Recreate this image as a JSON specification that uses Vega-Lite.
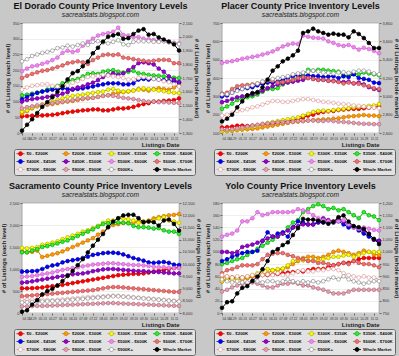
{
"$schema": "https://vega.github.io/schema/vega-lite/v6.json",
"background": "#c8c8c8",
"padding": {"left": 0, "top": 2, "right": 0, "bottom": 0},
"columns": 2,
"bounds": "flush",
"spacing": {"column": 43, "row": 70},
"resolve": {"scale": {"color": "independent", "stroke": "independent", "x": "independent"}, "legend": {"color": "independent", "stroke": "independent"}},
"datasets": {
"ed": [
{"d":"2007-04-15","a":53,"b":62,"c":68,"e":120,"f":108,"g":100,"h":197,"j":175,"k":138,"m":78,"n":228,"w":1317},
{"d":"2007-04-22","a":54,"b":70,"c":72,"e":122,"f":115,"g":105,"h":205,"j":182,"k":145,"m":82,"n":235,"w":1360},
{"d":"2007-04-29","a":55,"b":78,"c":80,"e":125,"f":122,"g":108,"h":212,"j":188,"k":150,"m":85,"n":245,"w":1400},
{"d":"2007-05-06","a":55,"b":85,"c":85,"e":128,"f":128,"g":110,"h":215,"j":193,"k":152,"m":88,"n":250,"w":1445},
{"d":"2007-05-13","a":56,"b":88,"c":90,"e":132,"f":132,"g":112,"h":220,"j":198,"k":155,"m":90,"n":255,"w":1490},
{"d":"2007-05-20","a":57,"b":90,"c":95,"e":138,"f":135,"g":115,"h":225,"j":200,"k":155,"m":92,"n":258,"w":1525},
{"d":"2007-05-27","a":58,"b":92,"c":100,"e":145,"f":138,"g":118,"h":232,"j":205,"k":150,"m":95,"n":262,"w":1560},
{"d":"2007-06-03","a":60,"b":95,"c":105,"e":150,"f":140,"g":120,"h":240,"j":210,"k":148,"m":98,"n":270,"w":1600},
{"d":"2007-06-10","a":63,"b":98,"c":110,"e":158,"f":142,"g":125,"h":255,"j":215,"k":150,"m":100,"n":272,"w":1640},
{"d":"2007-06-17","a":66,"b":100,"c":115,"e":165,"f":140,"g":130,"h":262,"j":222,"k":152,"m":102,"n":278,"w":1690},
{"d":"2007-06-24","a":68,"b":102,"c":118,"e":168,"f":138,"g":140,"h":258,"j":225,"k":160,"m":105,"n":275,"w":1735},
{"d":"2007-07-01","a":70,"b":105,"c":120,"e":172,"f":140,"g":145,"h":262,"j":228,"k":165,"m":108,"n":280,"w":1750},
{"d":"2007-07-08","a":72,"b":108,"c":122,"e":180,"f":142,"g":148,"h":278,"j":225,"k":172,"m":110,"n":285,"w":1785},
{"d":"2007-07-15","a":73,"b":110,"c":125,"e":188,"f":145,"g":155,"h":290,"j":220,"k":178,"m":112,"n":280,"w":1820},
{"d":"2007-07-22","a":75,"b":112,"c":128,"e":190,"f":148,"g":160,"h":300,"j":232,"k":180,"m":112,"n":290,"w":1880},
{"d":"2007-07-29","a":75,"b":115,"c":130,"e":188,"f":152,"g":168,"h":310,"j":240,"k":182,"m":115,"n":292,"w":1920},
{"d":"2007-08-05","a":72,"b":118,"c":132,"e":195,"f":155,"g":178,"h":315,"j":248,"k":185,"m":118,"n":288,"w":1965},
{"d":"2007-08-12","a":72,"b":120,"c":138,"e":198,"f":158,"g":185,"h":318,"j":250,"k":183,"m":120,"n":285,"w":2000},
{"d":"2007-08-19","a":75,"b":125,"c":140,"e":200,"f":158,"g":190,"h":322,"j":248,"k":180,"m":118,"n":290,"w":2010},
{"d":"2007-08-26","a":78,"b":128,"c":135,"e":195,"f":158,"g":185,"h":335,"j":250,"k":178,"m":115,"n":295,"w":2020},
{"d":"2007-09-02","a":78,"b":130,"c":132,"e":192,"f":155,"g":190,"h":312,"j":240,"k":175,"m":112,"n":282,"w":1985},
{"d":"2007-09-09","a":80,"b":132,"c":133,"e":195,"f":155,"g":200,"h":310,"j":238,"k":170,"m":110,"n":280,"w":1990},
{"d":"2007-09-16","a":83,"b":135,"c":135,"e":198,"f":158,"g":210,"h":305,"j":235,"k":172,"m":108,"n":290,"w":2020},
{"d":"2007-09-23","a":88,"b":140,"c":138,"e":190,"f":170,"g":222,"h":305,"j":232,"k":175,"m":105,"n":292,"w":2045},
{"d":"2007-09-30","a":92,"b":138,"c":142,"e":188,"f":172,"g":225,"h":300,"j":230,"k":178,"m":102,"n":292,"w":2055},
{"d":"2007-10-07","a":95,"b":135,"c":140,"e":185,"f":170,"g":222,"h":298,"j":228,"k":175,"m":100,"n":292,"w":2015},
{"d":"2007-10-14","a":100,"b":140,"c":138,"e":183,"f":172,"g":218,"h":296,"j":230,"k":172,"m":100,"n":290,"w":2020},
{"d":"2007-10-21","a":100,"b":142,"c":135,"e":182,"f":170,"g":205,"h":293,"j":232,"k":170,"m":98,"n":290,"w":1995},
{"d":"2007-10-28","a":102,"b":140,"c":133,"e":180,"f":168,"g":195,"h":292,"j":233,"k":165,"m":98,"n":292,"w":1980},
{"d":"2007-11-04","a":103,"b":138,"c":130,"e":178,"f":165,"g":180,"h":290,"j":232,"k":162,"m":97,"n":288,"w":1965},
{"d":"2007-11-11","a":105,"b":145,"c":128,"e":176,"f":165,"g":170,"h":287,"j":222,"k":155,"m":96,"n":285,"w":1945},
{"d":"2007-11-18","a":110,"b":150,"c":127,"e":175,"f":160,"g":162,"h":285,"j":222,"k":148,"m":95,"n":283,"w":1900}
],
"pl": [
{"d":"2007-04-15","a":130,"b":110,"c":110,"e":232,"f":300,"g":268,"h":482,"j":315,"k":195,"m":120,"n":310,"w":2727},
{"d":"2007-04-22","a":132,"b":110,"c":112,"e":245,"f":305,"g":275,"h":488,"j":320,"k":200,"m":118,"n":312,"w":2756},
{"d":"2007-04-29","a":135,"b":112,"c":115,"e":260,"f":320,"g":285,"h":492,"j":340,"k":210,"m":120,"n":320,"w":2800},
{"d":"2007-05-06","a":140,"b":115,"c":120,"e":280,"f":335,"g":295,"h":498,"j":355,"k":220,"m":125,"n":330,"w":2880},
{"d":"2007-05-13","a":140,"b":118,"c":125,"e":290,"f":340,"g":300,"h":505,"j":360,"k":225,"m":130,"n":340,"w":2945},
{"d":"2007-05-20","a":138,"b":120,"c":130,"e":295,"f":345,"g":305,"h":510,"j":362,"k":230,"m":135,"n":350,"w":3011},
{"d":"2007-05-27","a":140,"b":122,"c":135,"e":300,"f":350,"g":310,"h":515,"j":365,"k":240,"m":140,"n":360,"w":3036},
{"d":"2007-06-03","a":142,"b":125,"c":140,"e":310,"f":360,"g":320,"h":520,"j":370,"k":245,"m":145,"n":370,"w":3047},
{"d":"2007-06-10","a":145,"b":130,"c":148,"e":325,"f":370,"g":330,"h":528,"j":380,"k":255,"m":150,"n":380,"w":3098},
{"d":"2007-06-17","a":148,"b":135,"c":155,"e":340,"f":375,"g":345,"h":535,"j":385,"k":265,"m":152,"n":390,"w":3182},
{"d":"2007-06-24","a":150,"b":140,"c":160,"e":340,"f":375,"g":355,"h":545,"j":385,"k":275,"m":155,"n":395,"w":3280},
{"d":"2007-07-01","a":155,"b":145,"c":165,"e":345,"f":380,"g":365,"h":558,"j":375,"k":275,"m":158,"n":400,"w":3327},
{"d":"2007-07-08","a":160,"b":150,"c":170,"e":365,"f":390,"g":370,"h":572,"j":378,"k":270,"m":160,"n":405,"w":3382},
{"d":"2007-07-15","a":165,"b":155,"c":175,"e":380,"f":400,"g":375,"h":582,"j":385,"k":270,"m":160,"n":410,"w":3411},
{"d":"2007-07-22","a":170,"b":160,"c":180,"e":390,"f":410,"g":380,"h":588,"j":390,"k":275,"m":162,"n":420,"w":3447},
{"d":"2007-07-29","a":175,"b":162,"c":185,"e":400,"f":415,"g":385,"h":585,"j":400,"k":280,"m":165,"n":425,"w":3498},
{"d":"2007-08-05","a":185,"b":165,"c":195,"e":420,"f":410,"g":390,"h":632,"j":405,"k":285,"m":165,"n":430,"w":3691},
{"d":"2007-08-12","a":195,"b":168,"c":205,"e":445,"f":415,"g":400,"h":625,"j":400,"k":285,"m":168,"n":435,"w":3709},
{"d":"2007-08-19","a":200,"b":170,"c":215,"e":440,"f":410,"g":395,"h":620,"j":395,"k":280,"m":168,"n":440,"w":3738},
{"d":"2007-08-26","a":210,"b":172,"c":220,"e":445,"f":410,"g":390,"h":618,"j":390,"k":275,"m":165,"n":435,"w":3709},
{"d":"2007-09-02","a":215,"b":175,"c":222,"e":445,"f":405,"g":390,"h":615,"j":390,"k":270,"m":165,"n":430,"w":3691},
{"d":"2007-09-09","a":218,"b":175,"c":220,"e":440,"f":408,"g":385,"h":600,"j":385,"k":268,"m":168,"n":428,"w":3673},
{"d":"2007-09-16","a":220,"b":178,"c":225,"e":438,"f":410,"g":385,"h":592,"j":382,"k":265,"m":165,"n":425,"w":3684},
{"d":"2007-09-23","a":225,"b":180,"c":228,"e":435,"f":400,"g":380,"h":580,"j":378,"k":260,"m":162,"n":430,"w":3673},
{"d":"2007-09-30","a":228,"b":185,"c":232,"e":410,"f":410,"g":378,"h":575,"j":370,"k":258,"m":160,"n":432,"w":3673},
{"d":"2007-10-07","a":230,"b":190,"c":235,"e":415,"f":405,"g":380,"h":580,"j":375,"k":255,"m":158,"n":428,"w":3644},
{"d":"2007-10-14","a":232,"b":192,"c":240,"e":425,"f":420,"g":370,"h":568,"j":372,"k":250,"m":155,"n":435,"w":3709},
{"d":"2007-10-21","a":232,"b":195,"c":242,"e":420,"f":400,"g":375,"h":555,"j":368,"k":248,"m":152,"n":440,"w":3680},
{"d":"2007-10-28","a":235,"b":198,"c":245,"e":430,"f":395,"g":365,"h":565,"j":360,"k":245,"m":150,"n":440,"w":3636},
{"d":"2007-11-04","a":238,"b":195,"c":248,"e":425,"f":390,"g":350,"h":558,"j":355,"k":240,"m":150,"n":435,"w":3582},
{"d":"2007-11-11","a":240,"b":195,"c":250,"e":420,"f":375,"g":340,"h":548,"j":345,"k":238,"m":148,"n":425,"w":3527},
{"d":"2007-11-18","a":245,"b":192,"c":258,"e":415,"f":372,"g":335,"h":535,"j":340,"k":235,"m":148,"n":420,"w":3527}
],
"sa": [
{"d":"2007-04-15","a":560,"b":1400,"c":1480,"e":1380,"f":940,"g":690,"h":820,"j":380,"k":300,"m":150,"n":240,"w":8055},
{"d":"2007-04-22","a":560,"b":1380,"c":1470,"e":1380,"f":945,"g":700,"h":830,"j":390,"k":300,"m":150,"n":245,"w":8110},
{"d":"2007-04-29","a":565,"b":1390,"c":1480,"e":1420,"f":950,"g":720,"h":840,"j":400,"k":305,"m":155,"n":250,"w":8344},
{"d":"2007-05-06","a":570,"b":1420,"c":1500,"e":1450,"f":960,"g":740,"h":860,"j":410,"k":310,"m":160,"n":255,"w":8523},
{"d":"2007-05-13","a":580,"b":1270,"c":1550,"e":1500,"f":1000,"g":760,"h":880,"j":420,"k":300,"m":160,"n":260,"w":8757},
{"d":"2007-05-20","a":600,"b":1300,"c":1570,"e":1520,"f":1050,"g":780,"h":900,"j":430,"k":295,"m":165,"n":265,"w":8894},
{"d":"2007-05-27","a":610,"b":1330,"c":1600,"e":1550,"f":1080,"g":800,"h":920,"j":440,"k":290,"m":170,"n":270,"w":8991},
{"d":"2007-06-03","a":620,"b":1360,"c":1630,"e":1580,"f":1100,"g":820,"h":950,"j":450,"k":300,"m":175,"n":275,"w":9128},
{"d":"2007-06-10","a":640,"b":1400,"c":1680,"e":1620,"f":1150,"g":840,"h":980,"j":460,"k":310,"m":180,"n":280,"w":9307},
{"d":"2007-06-17","a":660,"b":1450,"c":1720,"e":1650,"f":1180,"g":860,"h":1000,"j":470,"k":320,"m":185,"n":290,"w":9514},
{"d":"2007-06-24","a":680,"b":1500,"c":1760,"e":1700,"f":1200,"g":880,"h":1020,"j":480,"k":330,"m":190,"n":300,"w":9720},
{"d":"2007-07-01","a":700,"b":1550,"c":1800,"e":1750,"f":1220,"g":890,"h":1040,"j":490,"k":340,"m":195,"n":310,"w":9954},
{"d":"2007-07-08","a":720,"b":1600,"c":1850,"e":1800,"f":1250,"g":900,"h":1060,"j":500,"k":350,"m":200,"n":320,"w":10202},
{"d":"2007-07-15","a":740,"b":1650,"c":1880,"e":1850,"f":1280,"g":920,"h":1080,"j":510,"k":360,"m":205,"n":330,"w":10477},
{"d":"2007-07-22","a":760,"b":1700,"c":1930,"e":1900,"f":1320,"g":950,"h":1100,"j":520,"k":365,"m":210,"n":340,"w":10752},
{"d":"2007-07-29","a":780,"b":1780,"c":1980,"e":1960,"f":1340,"g":970,"h":1110,"j":540,"k":370,"m":215,"n":350,"w":11000},
{"d":"2007-08-05","a":800,"b":1850,"c":2050,"e":2020,"f":1360,"g":990,"h":1120,"j":560,"k":380,"m":220,"n":360,"w":11234},
{"d":"2007-08-12","a":820,"b":1950,"c":2100,"e":2040,"f":1370,"g":1000,"h":1130,"j":580,"k":390,"m":225,"n":370,"w":11509},
{"d":"2007-08-19","a":840,"b":2000,"c":2100,"e":2050,"f":1370,"g":1000,"h":1130,"j":590,"k":395,"m":225,"n":380,"w":11743},
{"d":"2007-08-26","a":860,"b":2020,"c":2150,"e":2060,"f":1360,"g":990,"h":1120,"j":590,"k":390,"m":220,"n":380,"w":11880},
{"d":"2007-09-02","a":870,"b":2050,"c":2150,"e":2050,"f":1330,"g":980,"h":1110,"j":580,"k":380,"m":215,"n":370,"w":11990},
{"d":"2007-09-09","a":880,"b":2050,"c":2130,"e":2040,"f":1290,"g":970,"h":1100,"j":570,"k":370,"m":210,"n":360,"w":12018},
{"d":"2007-09-16","a":890,"b":2050,"c":2100,"e":1980,"f":1250,"g":960,"h":1090,"j":560,"k":360,"m":205,"n":350,"w":12018},
{"d":"2007-09-23","a":890,"b":2080,"c":2050,"e":1950,"f":1220,"g":950,"h":1090,"j":550,"k":350,"m":200,"n":340,"w":11880},
{"d":"2007-09-30","a":900,"b":2080,"c":2050,"e":1950,"f":1190,"g":950,"h":1080,"j":540,"k":340,"m":195,"n":330,"w":11715},
{"d":"2007-10-07","a":920,"b":2100,"c":2080,"e":1940,"f":1150,"g":940,"h":1070,"j":530,"k":330,"m":190,"n":320,"w":11743},
{"d":"2007-10-14","a":940,"b":2150,"c":2100,"e":1920,"f":1140,"g":935,"h":1050,"j":520,"k":320,"m":185,"n":310,"w":11715},
{"d":"2007-10-21","a":960,"b":2180,"c":2150,"e":1930,"f":1150,"g":930,"h":1040,"j":510,"k":310,"m":180,"n":300,"w":11578},
{"d":"2007-10-28","a":980,"b":2200,"c":2180,"e":1880,"f":1160,"g":920,"h":1040,"j":500,"k":300,"m":175,"n":290,"w":11784},
{"d":"2007-11-04","a":1000,"b":2220,"c":2100,"e":1850,"f":1140,"g":910,"h":1030,"j":490,"k":290,"m":170,"n":280,"w":11825},
{"d":"2007-11-11","a":1020,"b":2230,"c":2080,"e":1850,"f":1100,"g":900,"h":1020,"j":480,"k":280,"m":165,"n":270,"w":11646},
{"d":"2007-11-18","a":1040,"b":2250,"c":2050,"e":1800,"f":1090,"g":900,"h":1020,"j":480,"k":270,"m":160,"n":260,"w":11371}
],
"yo": [
{"d":"2007-04-15","a":52,"b":58,"c":52,"e":80,"f":85,"g":100,"h":125,"j":65,"k":62,"m":35,"n":55,"w":771},
{"d":"2007-04-22","a":55,"b":60,"c":55,"e":82,"f":88,"g":100,"h":128,"j":70,"k":60,"m":38,"n":52,"w":794},
{"d":"2007-04-29","a":58,"b":58,"c":55,"e":85,"f":92,"g":98,"h":130,"j":72,"k":58,"m":42,"n":50,"w":798},
{"d":"2007-05-06","a":58,"b":56,"c":56,"e":88,"f":95,"g":100,"h":135,"j":75,"k":60,"m":45,"n":52,"w":830},
{"d":"2007-05-13","a":58,"b":55,"c":58,"e":90,"f":98,"g":108,"h":150,"j":78,"k":58,"m":48,"n":50,"w":853},
{"d":"2007-05-20","a":58,"b":57,"c":60,"e":95,"f":100,"g":110,"h":150,"j":78,"k":60,"m":48,"n":50,"w":860},
{"d":"2007-05-27","a":60,"b":60,"c":62,"e":100,"f":100,"g":112,"h":155,"j":78,"k":62,"m":50,"n":52,"w":881},
{"d":"2007-06-03","a":60,"b":62,"c":65,"e":105,"f":102,"g":115,"h":165,"j":80,"k":63,"m":48,"n":52,"w":899},
{"d":"2007-06-10","a":62,"b":63,"c":70,"e":110,"f":118,"g":118,"h":160,"j":88,"k":62,"m":45,"n":50,"w":929},
{"d":"2007-06-17","a":62,"b":65,"c":72,"e":115,"f":132,"g":122,"h":162,"j":95,"k":63,"m":42,"n":52,"w":963},
{"d":"2007-06-24","a":63,"b":70,"c":70,"e":120,"f":125,"g":125,"h":165,"j":97,"k":62,"m":42,"n":52,"w":1000},
{"d":"2007-07-01","a":64,"b":70,"c":72,"e":125,"f":130,"g":125,"h":165,"j":98,"k":65,"m":45,"n":50,"w":1011},
{"d":"2007-07-08","a":65,"b":72,"c":73,"e":130,"f":132,"g":130,"h":165,"j":98,"k":62,"m":48,"n":52,"w":1028},
{"d":"2007-07-15","a":66,"b":75,"c":78,"e":140,"f":125,"g":135,"h":165,"j":95,"k":63,"m":48,"n":55,"w":1039},
{"d":"2007-07-22","a":67,"b":80,"c":85,"e":148,"f":140,"g":140,"h":166,"j":93,"k":65,"m":50,"n":52,"w":1069},
{"d":"2007-07-29","a":68,"b":85,"c":88,"e":152,"f":150,"g":142,"h":170,"j":90,"k":68,"m":48,"n":50,"w":1097},
{"d":"2007-08-05","a":68,"b":90,"c":86,"e":165,"f":148,"g":145,"h":168,"j":88,"k":70,"m":45,"n":52,"w":1135},
{"d":"2007-08-12","a":70,"b":92,"c":86,"e":170,"f":145,"g":145,"h":165,"j":85,"k":68,"m":45,"n":50,"w":1132},
{"d":"2007-08-19","a":72,"b":92,"c":86,"e":175,"f":145,"g":145,"h":160,"j":85,"k":68,"m":42,"n":52,"w":1132},
{"d":"2007-08-26","a":72,"b":90,"c":85,"e":178,"f":148,"g":150,"h":155,"j":82,"k":70,"m":40,"n":50,"w":1128},
{"d":"2007-09-02","a":72,"b":92,"c":88,"e":175,"f":148,"g":155,"h":152,"j":82,"k":70,"m":38,"n":52,"w":1122},
{"d":"2007-09-09","a":75,"b":95,"c":90,"e":170,"f":150,"g":152,"h":150,"j":80,"k":72,"m":35,"n":55,"w":1115},
{"d":"2007-09-16","a":78,"b":100,"c":92,"e":172,"f":148,"g":150,"h":148,"j":78,"k":72,"m":32,"n":58,"w":1122},
{"d":"2007-09-23","a":80,"b":102,"c":92,"e":168,"f":150,"g":155,"h":150,"j":80,"k":70,"m":32,"n":55,"w":1142},
{"d":"2007-09-30","a":82,"b":100,"c":94,"e":170,"f":145,"g":150,"h":152,"j":82,"k":65,"m":32,"n":60,"w":1149},
{"d":"2007-10-07","a":82,"b":98,"c":95,"e":165,"f":140,"g":145,"h":145,"j":80,"k":62,"m":35,"n":55,"w":1124},
{"d":"2007-10-14","a":85,"b":95,"c":92,"e":160,"f":142,"g":140,"h":140,"j":85,"k":60,"m":38,"n":52,"w":1105},
{"d":"2007-10-21","a":88,"b":98,"c":95,"e":155,"f":135,"g":138,"h":138,"j":82,"k":58,"m":38,"n":50,"w":1101},
{"d":"2007-10-28","a":90,"b":102,"c":98,"e":165,"f":130,"g":135,"h":140,"j":80,"k":60,"m":38,"n":48,"w":1094},
{"d":"2007-11-04","a":90,"b":100,"c":100,"e":160,"f":125,"g":130,"h":138,"j":80,"k":58,"m":38,"n":50,"w":1073},
{"d":"2007-11-11","a":90,"b":96,"c":100,"e":158,"f":120,"g":120,"h":136,"j":78,"k":58,"m":38,"n":52,"w":1053},
{"d":"2007-11-18","a":90,"b":95,"c":100,"e":152,"f":118,"g":118,"h":135,"j":75,"k":55,"m":38,"n":52,"w":1032}
]
},
"concat": [
{
"title": {"text": "El Dorado County Price Inventory Levels", "subtitle": "sacrealstats.blogspot.com"},
"width": 157, "height": 110,
"data": {"name": "ed"},
"transform": [{"fold": ["a","b","c","e","f","g","h","j","k","m","n","w"], "as": ["key","v"]}],
"encoding": {
"x": {"field": "d", "type": "temporal", "title": "Listings Date"},
"color": {"field": "key", "type": "nominal", "scale": {"domain": ["a","b","c","e","f","g","h","j","k","m","n","w"], "range": ["#ff0000","#ff9900","#ffff00","#33ee33","#0000ff","#9900cc","#ee88ee","#f07070","#ffffff","#e8a0b0","#ffffff","#000000"]}, "legend": {"title": null, "labelExpr": "{'a':'$0 - $200K','b':'$200K - $300K','c':'$300K - $350K','e':'$350K - $400K','f':'$400K - $450K','g':'$450K - $500K','h':'$500K - $600K','j':'$600K - $700K','k':'$700K - $800K','m':'$800K - $900K','n':'$900K+','w':'Whole Market'}[datum.label]"}},
"stroke": {"field": "key", "type": "nominal", "scale": {"domain": ["a","b","c","e","f","g","h","j","k","m","n","w"], "range": ["#cc0000","#cc7700","#b0b000","#00aa00","#0000aa","#660099","#cc66cc","#c05050","#e0a0a0","#b07080","#909090","#000000"]}, "legend": {"title": null, "labelExpr": "{'a':'$0 - $200K','b':'$200K - $300K','c':'$300K - $350K','e':'$350K - $400K','f':'$400K - $450K','g':'$450K - $500K','h':'$500K - $600K','j':'$600K - $700K','k':'$700K - $800K','m':'$800K - $900K','n':'$900K+','w':'Whole Market'}[datum.label]"}}
},
"layer": [
{"transform": [{"filter": "datum.key != 'w'"}],
"encoding": {"y": {"field": "v", "type": "quantitative", "title": "# of Listings (each level)", "scale": {"domain": [0, 350], "nice": false, "zero": false}, "axis": {"values": [0,50,100,150,200,250,300,350], "grid": true}}},
"layer": [{"mark": {"type": "line", "strokeWidth": 1}}, {"mark": {"type": "circle", "size": 14, "opacity": 1, "strokeWidth": 0.7}}]},
{"transform": [{"filter": "datum.key == 'w'"}],
"encoding": {"y": {"field": "v", "type": "quantitative", "title": "# of Listings (whole market)", "scale": {"domain": [1300, 2100], "nice": false, "zero": false}, "axis": {"orient": "right", "titlePadding": 1, "values": [1300,1400,1500,1600,1700,1800,1900,2000,2100], "grid": false}}},
"layer": [{"mark": {"type": "line", "strokeWidth": 1}}, {"mark": {"type": "circle", "size": 14, "opacity": 1, "strokeWidth": 0.7}}]}
],
"resolve": {"scale": {"y": "independent"}}
},
{
"title": {"text": "Placer County Price Inventory Levels", "subtitle": "sacrealstats.blogspot.com"},
"width": 157, "height": 110,
"data": {"name": "pl"},
"transform": [{"fold": ["a","b","c","e","f","g","h","j","k","m","n","w"], "as": ["key","v"]}],
"encoding": {
"x": {"field": "d", "type": "temporal", "title": "Listings Date"},
"color": {"field": "key", "type": "nominal", "scale": {"domain": ["a","b","c","e","f","g","h","j","k","m","n","w"], "range": ["#ff0000","#ff9900","#ffff00","#33ee33","#0000ff","#9900cc","#ee88ee","#f07070","#ffffff","#e8a0b0","#ffffff","#000000"]}, "legend": {"title": null, "labelExpr": "{'a':'$0 - $200K','b':'$200K - $300K','c':'$300K - $350K','e':'$350K - $400K','f':'$400K - $450K','g':'$450K - $500K','h':'$500K - $600K','j':'$600K - $700K','k':'$700K - $800K','m':'$800K - $900K','n':'$900K+','w':'Whole Market'}[datum.label]"}},
"stroke": {"field": "key", "type": "nominal", "scale": {"domain": ["a","b","c","e","f","g","h","j","k","m","n","w"], "range": ["#cc0000","#cc7700","#b0b000","#00aa00","#0000aa","#660099","#cc66cc","#c05050","#e0a0a0","#b07080","#909090","#000000"]}, "legend": {"title": null, "labelExpr": "{'a':'$0 - $200K','b':'$200K - $300K','c':'$300K - $350K','e':'$350K - $400K','f':'$400K - $450K','g':'$450K - $500K','h':'$500K - $600K','j':'$600K - $700K','k':'$700K - $800K','m':'$800K - $900K','n':'$900K+','w':'Whole Market'}[datum.label]"}}
},
"layer": [
{"transform": [{"filter": "datum.key != 'w'"}],
"encoding": {"y": {"field": "v", "type": "quantitative", "title": "# of Listings (each level)", "scale": {"domain": [100, 700], "nice": false, "zero": false}, "axis": {"values": [100,200,300,400,500,600,700], "grid": true}}},
"layer": [{"mark": {"type": "line", "strokeWidth": 1}}, {"mark": {"type": "circle", "size": 14, "opacity": 1, "strokeWidth": 0.7}}]},
{"transform": [{"filter": "datum.key == 'w'"}],
"encoding": {"y": {"field": "v", "type": "quantitative", "title": "# of Listings (whole market)", "scale": {"domain": [2600, 3800], "nice": false, "zero": false}, "axis": {"orient": "right", "titlePadding": 1, "values": [2600,2800,3000,3200,3400,3600,3800], "grid": false}}},
"layer": [{"mark": {"type": "line", "strokeWidth": 1}}, {"mark": {"type": "circle", "size": 14, "opacity": 1, "strokeWidth": 0.7}}]}
],
"resolve": {"scale": {"y": "independent"}}
},
{
"title": {"text": "Sacramento County Price Inventory Levels", "subtitle": "sacrealstats.blogspot.com"},
"width": 157, "height": 110,
"data": {"name": "sa"},
"transform": [{"fold": ["a","b","c","e","f","g","h","j","k","m","n","w"], "as": ["key","v"]}],
"encoding": {
"x": {"field": "d", "type": "temporal", "title": "Listings Date"},
"color": {"field": "key", "type": "nominal", "scale": {"domain": ["a","b","c","e","f","g","h","j","k","m","n","w"], "range": ["#ff0000","#ff9900","#ffff00","#33ee33","#0000ff","#9900cc","#ee88ee","#f07070","#ffffff","#e8a0b0","#ffffff","#000000"]}, "legend": {"title": null, "labelExpr": "{'a':'$0 - $200K','b':'$200K - $300K','c':'$300K - $350K','e':'$350K - $400K','f':'$400K - $450K','g':'$450K - $500K','h':'$500K - $600K','j':'$600K - $700K','k':'$700K - $800K','m':'$800K - $900K','n':'$900K+','w':'Whole Market'}[datum.label]"}},
"stroke": {"field": "key", "type": "nominal", "scale": {"domain": ["a","b","c","e","f","g","h","j","k","m","n","w"], "range": ["#cc0000","#cc7700","#b0b000","#00aa00","#0000aa","#660099","#cc66cc","#c05050","#e0a0a0","#b07080","#909090","#000000"]}, "legend": {"title": null, "labelExpr": "{'a':'$0 - $200K','b':'$200K - $300K','c':'$300K - $350K','e':'$350K - $400K','f':'$400K - $450K','g':'$450K - $500K','h':'$500K - $600K','j':'$600K - $700K','k':'$700K - $800K','m':'$800K - $900K','n':'$900K+','w':'Whole Market'}[datum.label]"}}
},
"layer": [
{"transform": [{"filter": "datum.key != 'w'"}],
"encoding": {"y": {"field": "v", "type": "quantitative", "title": "# of Listings (each level)", "scale": {"domain": [0, 2500], "nice": false, "zero": false}, "axis": {"values": [0,500,1000,1500,2000,2500], "grid": true}}},
"layer": [{"mark": {"type": "line", "strokeWidth": 1}}, {"mark": {"type": "circle", "size": 14, "opacity": 1, "strokeWidth": 0.7}}]},
{"transform": [{"filter": "datum.key == 'w'"}],
"encoding": {"y": {"field": "v", "type": "quantitative", "title": "# of Listings (whole market)", "scale": {"domain": [8000, 12500], "nice": false, "zero": false}, "axis": {"orient": "right", "titlePadding": 1, "values": [8000,8500,9000,9500,10000,10500,11000,11500,12000,12500], "grid": false}}},
"layer": [{"mark": {"type": "line", "strokeWidth": 1}}, {"mark": {"type": "circle", "size": 14, "opacity": 1, "strokeWidth": 0.7}}]}
],
"resolve": {"scale": {"y": "independent"}}
},
{
"title": {"text": "Yolo County Price Inventory Levels", "subtitle": "sacrealstats.blogspot.com"},
"width": 157, "height": 110,
"data": {"name": "yo"},
"transform": [{"fold": ["a","b","c","e","f","g","h","j","k","m","n","w"], "as": ["key","v"]}],
"encoding": {
"x": {"field": "d", "type": "temporal", "title": "Listings Date"},
"color": {"field": "key", "type": "nominal", "scale": {"domain": ["a","b","c","e","f","g","h","j","k","m","n","w"], "range": ["#ff0000","#ff9900","#ffff00","#33ee33","#0000ff","#9900cc","#ee88ee","#f07070","#ffffff","#e8a0b0","#ffffff","#000000"]}, "legend": {"title": null, "labelExpr": "{'a':'$0 - $200K','b':'$200K - $300K','c':'$300K - $350K','e':'$350K - $400K','f':'$400K - $450K','g':'$450K - $500K','h':'$500K - $600K','j':'$600K - $700K','k':'$700K - $800K','m':'$800K - $900K','n':'$900K+','w':'Whole Market'}[datum.label]"}},
"stroke": {"field": "key", "type": "nominal", "scale": {"domain": ["a","b","c","e","f","g","h","j","k","m","n","w"], "range": ["#cc0000","#cc7700","#b0b000","#00aa00","#0000aa","#660099","#cc66cc","#c05050","#e0a0a0","#b07080","#909090","#000000"]}, "legend": {"title": null, "labelExpr": "{'a':'$0 - $200K','b':'$200K - $300K','c':'$300K - $350K','e':'$350K - $400K','f':'$400K - $450K','g':'$450K - $500K','h':'$500K - $600K','j':'$600K - $700K','k':'$700K - $800K','m':'$800K - $900K','n':'$900K+','w':'Whole Market'}[datum.label]"}}
},
"layer": [
{"transform": [{"filter": "datum.key != 'w'"}],
"encoding": {"y": {"field": "v", "type": "quantitative", "title": "# of Listings (each level)", "scale": {"domain": [0, 180], "nice": false, "zero": false}, "axis": {"values": [0,20,40,60,80,100,120,140,160,180], "grid": true}}},
"layer": [{"mark": {"type": "line", "strokeWidth": 1}}, {"mark": {"type": "circle", "size": 14, "opacity": 1, "strokeWidth": 0.7}}]},
{"transform": [{"filter": "datum.key == 'w'"}],
"encoding": {"y": {"field": "v", "type": "quantitative", "title": "# of Listings (whole market)", "scale": {"domain": [750, 1200], "nice": false, "zero": false}, "axis": {"orient": "right", "titlePadding": 1, "values": [750,800,850,900,950,1000,1050,1100,1150,1200], "grid": false}}},
"layer": [{"mark": {"type": "line", "strokeWidth": 1}}, {"mark": {"type": "circle", "size": 14, "opacity": 1, "strokeWidth": 0.7}}]}
],
"resolve": {"scale": {"y": "independent"}}
}
],
"config": {
"font": "Liberation Sans",
"view": {"fill": "white", "stroke": "#888888", "strokeWidth": 0.6},
"title": {"fontSize": 9, "font": "Liberation Sans", "fontWeight": "bold", "color": "#111111", "subtitleFont": "Liberation Sans", "subtitleFontSize": 6.7, "subtitleFontStyle": "italic", "subtitleColor": "#222222", "subtitlePadding": 1, "offset": 2, "anchor": "middle"},
"axis": {"labelFont": "Liberation Sans", "labelFontSize": 4, "labelColor": "#333333", "titleFont": "Liberation Sans", "titleFontSize": 6, "titleFontWeight": "bold", "titleColor": "#222222", "tickSize": 2, "tickColor": "#666666", "domain": false, "gridColor": "#e2e2e2", "gridWidth": 0.6, "labelPadding": 1, "titlePadding": 2},
"axisX": {"grid": false, "labelFontSize": 3.2, "labelPadding": 1.5, "format": "%m.%d", "tickCount": {"interval": "week", "step": 2}, "labelOverlap": false, "titleAnchor": "end", "titlePadding": 2},
"legend": {"orient": "none", "direction": "horizontal", "legendX": -8, "legendY": 126, "columns": 4, "symbolType": "M-1.6,0H-0.8M0.8,0H1.6M-0.8,0A0.8,0.8,0,1,0,0.8,0A0.8,0.8,0,1,0,-0.8,0Z", "symbolSize": 25, "symbolOffset": 2, "symbolStrokeWidth": 0.8, "labelFontSize": 4.4, "labelFontWeight": "bold", "labelFont": "Liberation Sans", "labelColor": "#111111", "labelOffset": 3, "columnPadding": 3.5, "rowPadding": 0, "padding": 1.5, "fillColor": "#e2e2e2", "strokeColor": "#666666", "gridAlign": "all", "cornerRadius": 2}
}
}
